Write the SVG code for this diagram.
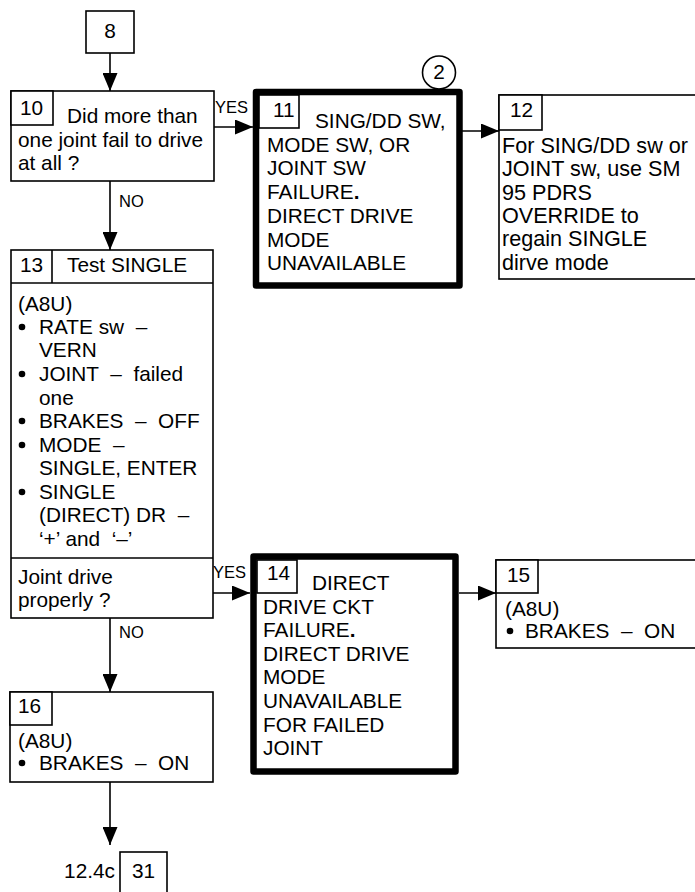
<svg xmlns="http://www.w3.org/2000/svg" width="695" height="892" viewBox="0 0 695 892">
<defs>
<style>
text{font-family:"Liberation Sans",Arial,sans-serif;font-size:20.8px;fill:#000;white-space:pre}
.lbl{font-size:16.5px}
.big{font-size:21.6px}
.box{fill:#fff;stroke:#000;stroke-width:1.6}
.thick{fill:#fff;stroke:#000;stroke-width:6.5;stroke-linejoin:round}
.ln{fill:none;stroke:#000;stroke-width:1.6}
.conn{fill:none;stroke:#000;stroke-width:1.6;marker-end:url(#ah)}
</style>
<marker id="ah" markerUnits="userSpaceOnUse" markerWidth="18" markerHeight="15" refX="18" refY="7.5" orient="auto">
<path d="M0,0 L18,7.5 L0,15 Z" fill="#000"/>
</marker>
</defs>
<rect width="695" height="892" fill="#fff"/>

<g id="connectors">
<line class="conn" x1="110" y1="53" x2="110" y2="91"/>
<line class="conn" x1="214" y1="127" x2="253" y2="127"/>
<line class="conn" x1="110" y1="181" x2="110" y2="250"/>
<line class="conn" x1="462" y1="131" x2="499" y2="131"/>
<line class="conn" x1="213" y1="593" x2="250" y2="593"/>
<line class="conn" x1="110" y1="618" x2="110" y2="692"/>
<line class="conn" x1="459" y1="593" x2="496" y2="593"/>
<line class="conn" x1="110" y1="782" x2="110" y2="845"/>
<text class="lbl" x="215" y="113">YES</text>
<text class="lbl" x="119" y="207">NO</text>
<text class="lbl" x="213" y="578">YES</text>
<text class="lbl" x="119" y="638">NO</text>
</g>

<g id="node8">
<rect class="box" x="86" y="11" width="48" height="42"/>
<text x="110" y="38" text-anchor="middle">8</text>
</g>

<g id="node10">
<rect class="box" x="11" y="91" width="203" height="90"/>
<rect class="box" x="11" y="91" width="42" height="34"/>
<text x="20" y="115">10</text>
<text x="67" y="123">Did more than</text>
<text x="18" y="147">one joint fail to drive</text>
<text x="18" y="170">at all ?</text>
</g>

<g id="node11">
<circle cx="439" cy="72.5" r="16.5" fill="#fff" stroke="#000" stroke-width="1.6"/>
<text x="439" y="79" text-anchor="middle">2</text>
<rect class="thick" x="256" y="92" width="203.5" height="193.5"/>
<rect class="box" x="259" y="95" width="40" height="33"/>
<text x="273" y="117">11</text>
<text x="315" y="128">SING/DD SW,</text>
<text x="267" y="152">MODE SW, OR</text>
<text x="267" y="175">JOINT SW</text>
<text x="267" y="199">FAILURE<tspan font-weight="bold">.</tspan></text>
<text x="267" y="223">DIRECT DRIVE</text>
<text x="267" y="247">MODE</text>
<text x="267" y="270">UNAVAILABLE</text>
</g>

<g id="node12">
<rect class="box" x="499" y="95" width="210" height="184"/>
<rect class="box" x="499" y="95" width="43" height="35"/>
<text x="510" y="117">12</text>
<text class="big" x="502" y="153">For SING/DD sw or</text>
<text class="big" x="502" y="176.3">JOINT sw, use SM</text>
<text class="big" x="502" y="199.6">95 PDRS</text>
<text class="big" x="502" y="222.9">OVERRIDE to</text>
<text class="big" x="502" y="246.2">regain SINGLE</text>
<text class="big" x="502" y="269.5">dirve mode</text>
</g>

<g id="node13">
<rect class="box" x="11" y="250" width="202" height="368"/>
<line class="ln" x1="11" y1="283" x2="213" y2="283"/>
<line class="ln" x1="52" y1="250" x2="52" y2="283"/>
<line class="ln" x1="11" y1="558" x2="213" y2="558"/>
<text x="20" y="272">13</text>
<text x="67" y="272">Test SINGLE</text>
<text x="18" y="311">(A8U)</text>
<circle cx="22" cy="327" r="3.3"/>
<text x="39" y="334">RATE sw  –</text>
<text x="39" y="357">VERN</text>
<circle cx="22" cy="374" r="3.3"/>
<text x="39" y="381">JOINT  –  failed</text>
<text x="39" y="405">one</text>
<circle cx="22" cy="421" r="3.3"/>
<text x="39" y="428">BRAKES  –  OFF</text>
<circle cx="22" cy="445" r="3.3"/>
<text x="39" y="452">MODE  –</text>
<text x="39" y="475">SINGLE, ENTER</text>
<circle cx="22" cy="492" r="3.3"/>
<text x="39" y="499">SINGLE</text>
<text x="39" y="522">(DIRECT) DR  –</text>
<text x="39" y="546">‘+’ and  ‘–’</text>
<text x="18" y="584">Joint drive</text>
<text x="18" y="607">properly ?</text>
</g>

<g id="node14">
<rect class="thick" x="253.5" y="556.5" width="202" height="215"/>
<rect class="box" x="257" y="560" width="40" height="33"/>
<text x="267" y="580">14</text>
<text x="312" y="590">DIRECT</text>
<text x="263" y="613.6">DRIVE CKT</text>
<text x="263" y="637.2">FAILURE<tspan font-weight="bold">.</tspan></text>
<text x="263" y="660.8">DIRECT DRIVE</text>
<text x="263" y="684.4">MODE</text>
<text x="263" y="708">UNAVAILABLE</text>
<text x="263" y="731.6">FOR FAILED</text>
<text x="263" y="755.2">JOINT</text>
</g>

<g id="node15">
<rect class="box" x="496" y="560" width="210" height="88"/>
<rect class="box" x="496" y="560" width="42" height="33"/>
<text x="507" y="582">15</text>
<text x="505" y="616">(A8U)</text>
<circle cx="510" cy="631" r="3.3"/>
<text x="525" y="638">BRAKES  –  ON</text>
</g>

<g id="node16">
<rect class="box" x="10" y="692" width="203" height="90"/>
<rect class="box" x="10" y="692" width="42" height="33"/>
<text x="18" y="713">16</text>
<text x="18" y="748">(A8U)</text>
<circle cx="22" cy="763" r="3.3"/>
<text x="39" y="770">BRAKES  –  ON</text>
</g>

<g id="node31">
<rect class="box" x="120" y="852" width="47" height="50"/>
<text x="132" y="878">31</text>
<text x="115" y="878" text-anchor="end">12.4c</text>
</g>
</svg>
